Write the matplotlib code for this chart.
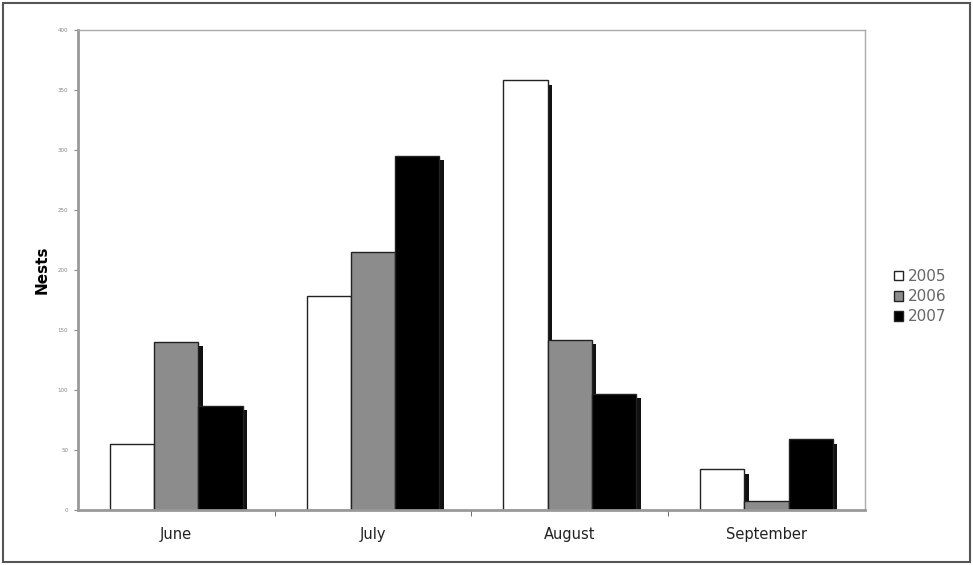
import matplotlib
matplotlib.use("Agg")
import matplotlib.pyplot as plt
import numpy as np
from matplotlib.patches import Rectangle

months = ["June", "July", "August", "September"]
years = ["2005", "2006", "2007"]
nests_2005 = [55, 178, 358, 34]
nests_2006 = [140, 215, 142, 8]
nests_2007 = [87, 295, 97, 59]
series = [nests_2005, nests_2006, nests_2007]
colors = ["white", "#8c8c8c", "black"]
yticks = [0, 50, 100, 150, 200, 250, 300, 350, 400]

fig = plt.figure(figsize=(9.73, 5.65), dpi=100)
ax = fig.add_axes([0.080, 0.097, 0.809, 0.850])

x = np.arange(len(months))
w = 0.225
dx, dy = 0.022, 3.5
for i, (vals, c) in enumerate(zip(series, colors)):
    pos = x + (i - 1) * w
    # shadow
    ax.bar(pos + dx, np.array(vals) - dy, w, bottom=0, color="#111111",
           edgecolor="none", zorder=1)
    ax.bar(pos, vals, w, color=c, edgecolor="#222222", linewidth=1.0,
           zorder=2, label=years[i])

ax.set_xlim(-0.5, len(months) - 0.5)
ax.set_ylim(0, 400)
ax.set_yticks(yticks)
ax.set_yticklabels([str(t) for t in yticks], fontsize=4, color="#888888")
ax.set_xticks(x)
ax.set_xticklabels(months, fontsize=10.5, color="#222222")
ax.tick_params(axis="x", length=0, pad=12)
ax.set_xticks(np.arange(0.5, len(months) - 0.5, 1), minor=True)
ax.tick_params(axis="x", which="minor", length=4, color="#555555")
ax.tick_params(axis="y", length=3, color="#888888", pad=4)
for s in ax.spines.values():
    s.set_color("#aaaaaa")
    s.set_linewidth(1.0)
ax.spines["left"].set_color("#999999")
ax.spines["left"].set_linewidth(2.0)
ax.spines["bottom"].set_color("#999999")
ax.spines["bottom"].set_linewidth(2.0)
ax.set_ylabel("Nests", fontsize=11, fontweight="bold", labelpad=6)

leg = fig.legend(loc="center left", bbox_to_anchor=(0.905, 0.475), frameon=False,
                 fontsize=11, handlelength=0.6, handleheight=0.6,
                 handletextpad=0.3, labelspacing=0.35)
for t in leg.get_texts():
    t.set_color("#666666")

fig.patches.append(Rectangle((0.003, 0.005), 0.994, 0.99, transform=fig.transFigure,
                             fill=False, edgecolor="#555555", linewidth=1.5))

fig.savefig("out.png", dpi=100)
